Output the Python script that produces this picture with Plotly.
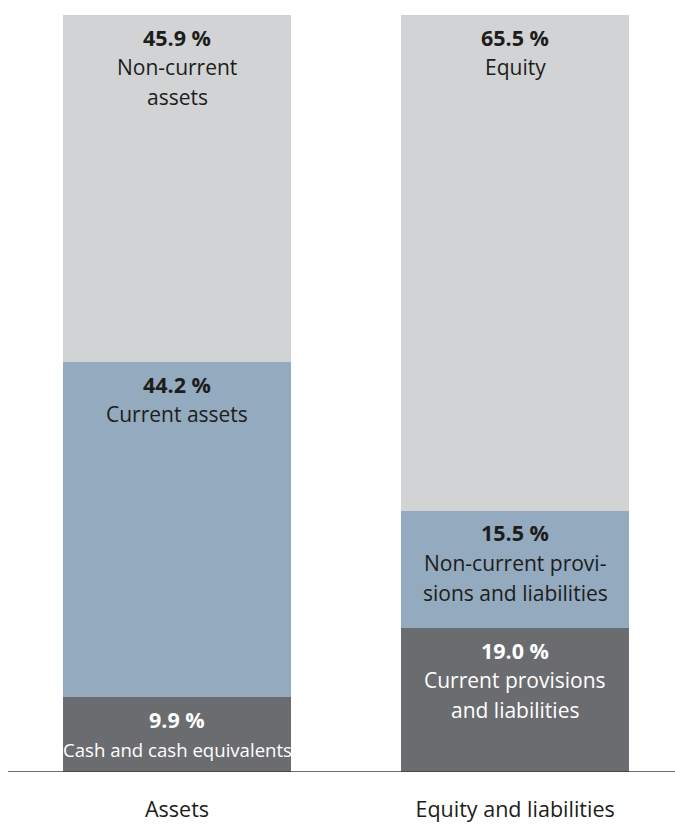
import plotly.graph_objects as go

# Balance sheet structure, shares of total in percent
categories = ["Assets", "Equity and liabilities"]

bottom_values = [9.9, 19.0]
middle_values = [44.2, 15.5]
top_values = [45.9, 65.5]

bottom_labels = [["Cash and cash equivalents"], ["Current provisions", "and liabilities"]]
middle_labels = [["Current assets"], ["Non-current provi-", "sions and liabilities"]]
top_labels = [["Non-current", "assets"], ["Equity"]]

DARK = "#6b6c70"
BLUE = "#93aabf"
LIGHT = "#d2d3d5"
INK = "#1d1d1b"
FONT = "Open Sans"

fig = go.Figure()
layers = [
    (bottom_values, DARK, bottom_labels, "white"),
    (middle_values, BLUE, middle_labels, INK),
    (top_values, LIGHT, top_labels, INK),
]

for vals, color, _, _ in layers:
    fig.add_trace(go.Bar(
        x=list(range(len(categories))), y=vals,
        marker=dict(color=color, line=dict(width=0)),
        width=0.675, hoverinfo="skip", showlegend=False,
    ))

# Segment captions: bold value line followed by the description lines
annotations = []
cumulative = [0.0] * len(categories)
for vals, color, labels, txt_color in layers:
    for i, v in enumerate(vals):
        seg_top = cumulative[i] + v
        lines = [(f"<b>{v:.1f} %</b>", 21.5)]
        for ln in labels[i]:
            size = 18.6 if ln == "Cash and cash equivalents" else 21
            lines.append((ln, size))
        for k, (t, size) in enumerate(lines):
            annotations.append(dict(
                x=i, y=seg_top, xref="x", yref="y",
                text=t, showarrow=False, xanchor="center", yanchor="middle",
                yshift=-(22 + 30 * k),
                font=dict(family=FONT, size=size, color=txt_color),
            ))
        cumulative[i] = seg_top

fig.update_layout(
    barmode="stack",
    width=675, height=826,
    margin=dict(l=8, r=0, t=15, b=54, autoexpand=False),
    paper_bgcolor="white", plot_bgcolor="white",
    font=dict(family=FONT, size=21, color=INK),
    annotations=annotations,
    xaxis=dict(
        range=[-0.5, 1.473], automargin=False,
        tickmode="array", tickvals=list(range(len(categories))), ticktext=categories,
        showgrid=False, zeroline=False, showline=False, ticks="",
        tickfont=dict(family=FONT, size=21.5, color=INK),
        ticklabelstandoff=22,
    ),
    yaxis=dict(range=[0, 100], visible=False, showgrid=False, zeroline=False,
               automargin=False),
    shapes=[dict(type="line", xref="paper", yref="y", x0=0, x1=1, y0=0, y1=0,
                 line=dict(color="#3c3c3b", width=1.5))],
)

fig.write_html("out.html")
